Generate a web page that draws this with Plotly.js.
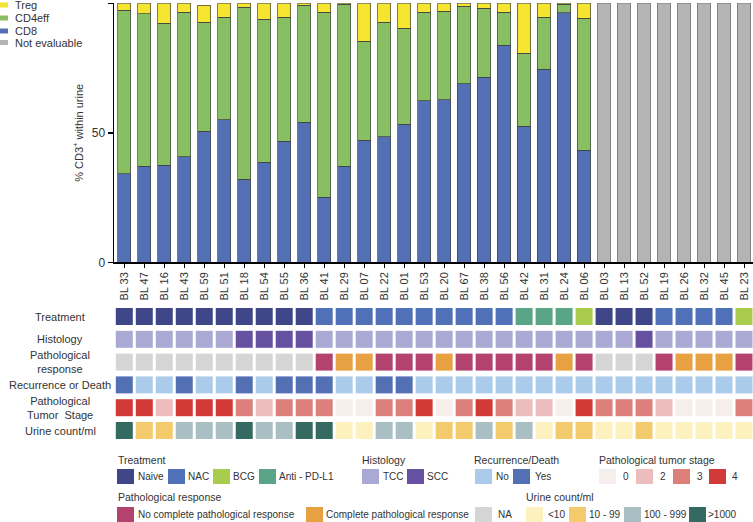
<!DOCTYPE html>
<html>
<head>
<meta charset="utf-8">
<script src="https://cdn.plot.ly/plotly-3.0.1.min.js"></script>
<style>html,body{margin:0;padding:0;background:#fff;}#chart{width:753px;height:522px;}</style>
</head>
<body>
<div id="chart"></div>
<script>
// ---------------- DATA ----------------
const samples = ['BL 33','BL 47','BL 16','BL 43','BL 59','BL 51','BL 18','BL 54','BL 55','BL 36','BL 41','BL 29','BL 07','BL 22','BL 01','BL 53','BL 20','BL 67','BL 38','BL 56','BL 42','BL 31','BL 24','BL 06','BL 03','BL 13','BL 52','BL 19','BL 26','BL 32','BL 45','BL 23'];
const cd8 = [34.1,37.1,37.5,40.7,50.6,55.0,32.0,38.6,46.7,54.1,25.1,37.1,47.1,48.4,53.3,62.3,62.7,68.9,71.4,83.9,52.5,74.5,96.4,43.2,null,null,null,null,null,null,null,null];
const cd4eff = [63.2,58.8,54.8,55.8,42.1,39.6,66.5,55.2,48.0,45.1,71.4,62.6,38.2,44.3,37.0,34.2,34.2,29.9,26.7,12.6,28.3,20.1,3.3,51.0,null,null,null,null,null,null,null,null];
const treg = [2.7,4.1,7.7,3.5,6.5,5.4,1.5,6.2,5.3,0.8,3.5,0.3,14.7,7.3,9.7,3.5,3.1,1.2,1.9,3.5,19.2,5.4,0.3,5.8,null,null,null,null,null,null,null,null];
const notEvaluable = [null,null,null,null,null,null,null,null,null,null,null,null,null,null,null,null,null,null,null,null,null,null,null,null,100,100,100,100,100,100,100,100];

const treatment = ['Naive','Naive','Naive','Naive','Naive','Naive','Naive','Naive','Naive','Naive','NAC','NAC','NAC','NAC','NAC','NAC','NAC','NAC','NAC','NAC','Anti - PD-L1','Anti - PD-L1','Anti - PD-L1','BCG','Naive','Naive','Naive','NAC','NAC','NAC','NAC','BCG'];
const histology = ['TCC','TCC','TCC','TCC','TCC','TCC','SCC','SCC','SCC','SCC','TCC','TCC','TCC','TCC','TCC','TCC','TCC','TCC','TCC','TCC','TCC','TCC','TCC','TCC','TCC','TCC','SCC','TCC','TCC','TCC','TCC','TCC'];
const pathResponse = ['NA','NA','NA','NA','NA','NA','NA','NA','NA','NA','No complete pathological response','Complete pathological response','Complete pathological response','No complete pathological response','No complete pathological response','No complete pathological response','Complete pathological response','No complete pathological response','No complete pathological response','No complete pathological response','No complete pathological response','No complete pathological response','Complete pathological response','No complete pathological response','NA','NA','NA','No complete pathological response','Complete pathological response','Complete pathological response','Complete pathological response','No complete pathological response'];
const recurrence = ['Yes','No','No','Yes','No','No','Yes','No','Yes','Yes','Yes','No','No','Yes','Yes','No','No','No','No','No','No','No','No','No','No','No','No','No','No','No','No','No'];
const tumorStage = ['4','4','2','4','4','4','3','2','3','3','3','0','0','3','3','4','0','3','4','3','2','2','0','4','3','3','3','2','0','0','0','3'];
const urineCount = ['>1000','10 - 99','10 - 99','100 - 999','100 - 999','100 - 999','>1000','100 - 999','100 - 999','>1000','>1000','<10','<10','100 - 999','100 - 999','<10','10 - 99','10 - 99','100 - 999','10 - 99','100 - 999','<10','10 - 99','10 - 99','<10','<10','10 - 99','<10','<10','<10','<10','<10'];

const rowLabels = ['Treatment','Histology','Pathological<br>response','Recurrence or Death','Pathological<br>Tumor  Stage','Urine count/ml'];

const treatmentColors = {'Naive':'#3f4687','NAC':'#5070b8','BCG':'#a9cc4e','Anti - PD-L1':'#5aa488'};
const histologyColors = {'TCC':'#aaa9d4','SCC':'#6650a0'};
const responseColors = {'No complete pathological response':'#b4426f','Complete pathological response':'#e7a143','NA':'#d5d5d5'};
const recurrenceColors = {'No':'#aacbea','Yes':'#5470b5'};
const stageColors = {'0':'#f6eeea','2':'#edbdbd','3':'#dd7f7b','4':'#d13a36'};
const urineColors = {'<10':'#fdf1bf','10 - 99':'#f3cb6c','100 - 999':'#a9bfc3','>1000':'#356a63'};

const barNames = ['Treg','CD4eff','CD8','Not evaluable'];
const barColors = {'Treg':'#f5e530','CD4eff':'#87bf62','CD8':'#5470b5','Not evaluable':'#b4b4b4'};

// ---------------- LAYOUT HELPERS ----------------
const W = 753, H = 522, ML = 114, PW = W - ML;
const px = v => (v - ML) / PW;
const py = v => 1 - v / H;
const FONT = 'Liberation Sans, Arial, sans-serif';
const TXT = '#333333';
const LFS = 10;

const esc = s => s.replace(/</g, '&lt;').replace(/>/g, '&gt;');

// ---------------- TRACES ----------------
const traces = [];
const barLine = {color:'#404040', width:0.7};
traces.push({type:'bar', x:samples, y:cd8, name:'CD8', marker:{color:barColors['CD8'], line:barLine}, hoverinfo:'x+y+name'});
traces.push({type:'bar', x:samples, y:cd4eff, name:'CD4eff', marker:{color:barColors['CD4eff'], line:barLine}, hoverinfo:'x+y+name'});
traces.push({type:'bar', x:samples, y:treg, name:'Treg', marker:{color:barColors['Treg'], line:barLine}, hoverinfo:'x+y+name'});
traces.push({type:'bar', x:samples, y:notEvaluable, name:'Not evaluable', marker:{color:barColors['Not evaluable'], line:{color:'#6a6a6a', width:0.7}}, hoverinfo:'x+name'});

const rows = [
  [treatment, treatmentColors],
  [histology, histologyColors],
  [pathResponse, responseColors],
  [recurrence, recurrenceColors],
  [tumorStage, stageColors],
  [urineCount, urineColors]
];
rows.forEach((r, i) => {
  traces.push({
    type:'scatter', mode:'markers', xaxis:'x', yaxis:'y2',
    x:samples, y:samples.map(() => i),
    marker:{symbol:'square', size:17, color:r[0].map(v => r[1][v]), line:{width:0}},
    hoverinfo:'x', showlegend:false
  });
});

// ---------------- ANNOTATIONS & SHAPES ----------------
const annotations = [];
const shapes = [];

// row labels
rowLabels.forEach((t, i) => {
  annotations.push({xref:'paper', yref:'y2', x:px(60), y:i, text:t, showarrow:false,
    xanchor:'center', yanchor:'middle', align:'center', font:{family:FONT, size:11, color:TXT}});
});

// top-left legend
const topLegendY = [5, 18, 31, 42.5];
barNames.forEach((n, i) => {
  shapes.push({type:'rect', xref:'paper', yref:'paper', x0:px(0), x1:px(8), y0:py(topLegendY[i]-2.5), y1:py(topLegendY[i]+2.5), fillcolor:barColors[n], line:{width:0}});
  annotations.push({xref:'paper', yref:'paper', x:px(13), y:py(topLegendY[i]), text:n, showarrow:false, xanchor:'left', yanchor:'middle', font:{family:FONT, size:11, color:TXT}});
});

// bottom legend
function legendTitle(text, x, y) {
  annotations.push({xref:'paper', yref:'paper', x:px(x-2), y:py(y), text:text, showarrow:false, xanchor:'left', yanchor:'middle', font:{family:FONT, size:10.5, color:TXT}});
}
function legendItem(color, label, sx, tx, yc) {
  shapes.push({type:'rect', xref:'paper', yref:'paper', x0:px(sx), x1:px(sx+17), y0:py(yc+7.5), y1:py(yc-7.5), fillcolor:color, line:{width:0}});
  annotations.push({xref:'paper', yref:'paper', x:px(tx-2), y:py(yc), text:esc(label), showarrow:false, xanchor:'left', yanchor:'middle', font:{family:FONT, size:LFS, color:TXT}});
}
const r1t = 460, r1s = 476.5, r2t = 497, r2s = 514.5;
legendTitle('Treatment', 118, r1t);
const trX = [[117,138],[168,188],[213,233],[259,279]];
Object.keys(treatmentColors).forEach((k, i) => legendItem(treatmentColors[k], k, trX[i][0], trX[i][1], r1s));
legendTitle('Histology', 362, r1t);
const hiX = [[362,383],[407,427]];
Object.keys(histologyColors).forEach((k, i) => legendItem(histologyColors[k], k, hiX[i][0], hiX[i][1], r1s));
legendTitle('Recurrence/Death', 474, r1t);
const reX = [[475,496],[513,535]];
Object.keys(recurrenceColors).forEach((k, i) => legendItem(recurrenceColors[k], k, reX[i][0], reX[i][1], r1s));
legendTitle('Pathological tumor stage', 599, r1t);
const stX = [[599,623],[636,660],[673,697],[709,732]];
Object.keys(stageColors).forEach((k, i) => legendItem(stageColors[k], k, stX[i][0], stX[i][1], r1s));
legendTitle('Pathological response', 118, r2t);
const rsX = [[117,138],[306,326],[475,498]];
Object.keys(responseColors).forEach((k, i) => legendItem(responseColors[k], k, rsX[i][0], rsX[i][1], r2s));
legendTitle('Urine count/ml', 526, r2t);
const urX = [[526,548],[569,589],[624,644],[689,708]];
Object.keys(urineColors).forEach((k, i) => legendItem(urineColors[k], k, urX[i][0], urX[i][1], r2s));

// ---------------- LAYOUT ----------------
const layout = {
  width:W, height:H,
  margin:{l:ML, r:0, t:0, b:0, pad:0},
  paper_bgcolor:'#fff', plot_bgcolor:'rgba(0,0,0,0)',
  barmode:'stack', bargap:0.335,
  showlegend:false,
  font:{family:FONT, color:TXT},
  xaxis:{
    type:'category', range:[-0.515, 31.45], domain:[0,1], anchor:'y',
    showline:true, linecolor:'#000', linewidth:1.5,
    ticks:'outside', ticklen:4, tickwidth:1, tickcolor:'#000',
    tickangle:-90, tickfont:{family:FONT, size:11, color:TXT},
    showgrid:false, zeroline:false, fixedrange:true
  },
  yaxis:{
    domain:[py(262.3), py(3.3)], range:[0,100],
    tickvals:[0,50,100], ticks:'outside', ticklen:5, tickwidth:1.5, tickcolor:'#000',
    showline:true, linecolor:'#000', linewidth:1.5,
    tickfont:{family:FONT, size:12, color:TXT},
    showgrid:false, zeroline:false,
    title:{text:'% CD3<sup>+</sup> within urine', font:{family:FONT, size:11, color:TXT}, standoff:6}
  },
  yaxis2:{
    domain:[py(441.9), py(305.1)], range:[5.5,-0.5], anchor:'x',
    visible:false, showgrid:false, zeroline:false
  },
  annotations:annotations,
  shapes:shapes
};

Plotly.newPlot('chart', traces, layout, {displayModeBar:false, staticPlot:true});
</script>
</body>
</html>
